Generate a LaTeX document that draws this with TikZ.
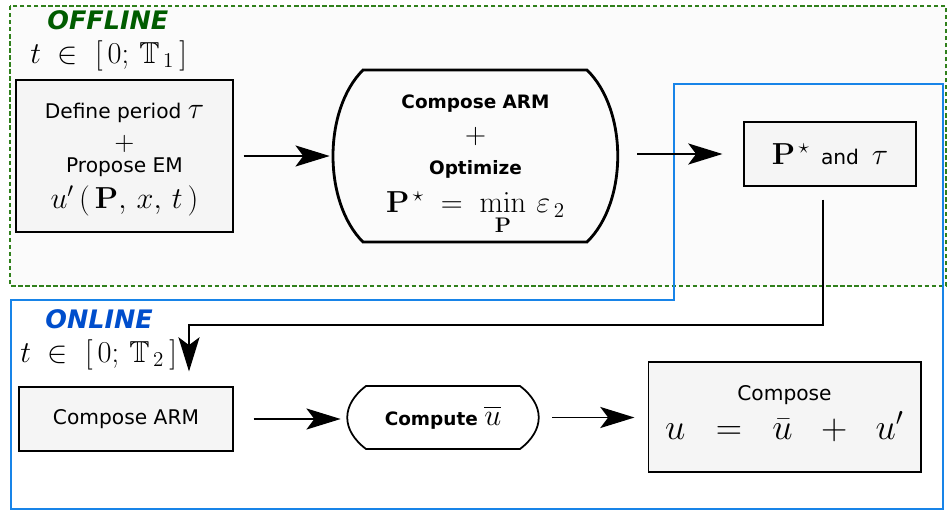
\RequirePackage{fix-cm}
\documentclass[tikz,border=0pt]{standalone}
\usepackage{amssymb}
\usepackage[no-math]{fontspec}
\setmainfont{DejaVu Sans}
\usetikzlibrary{arrows.meta}
\definecolor{offgreen}{RGB}{0,92,0}
\definecolor{dashgreen}{RGB}{48,128,28}
\definecolor{onblue}{RGB}{24,132,232}
\definecolor{ontext}{RGB}{0,78,204}
\definecolor{boxgray}{RGB}{245,245,245}
\definecolor{offback}{RGB}{251,251,251}
\newcommand{\mth}[1]{{\fontsize{17.28}{0}\selectfont$#1$}}
\newcommand{\txt}{\fontsize{11.5}{0}\selectfont\lineskiplimit=-\maxdimen}
\newcommand{\btxt}{\fontsize{10.5}{0}\selectfont\bfseries\lineskiplimit=-\maxdimen}
\begin{document}
\begin{tikzpicture}[x=0.02cm, y=-0.02cm,
	box/.style={draw, line width=0.6pt, fill=boxgray, align=center, inner sep=0pt},
	lines/.style={align=center, inner sep=0pt, anchor=north},
	phase/.style={anchor=base west, inner sep=0pt, font=\fontsize{14.5}{17}\selectfont\bfseries\itshape},
	arr/.style={line width=1.1pt, -{Stealth[length=19.5pt, width=12pt, inset=4.5pt]}}]
	\useasboundingbox (0,0) rectangle (948,511);
	% the two phases
	\draw[dashgreen, fill=offback, line width=1.1pt, dash pattern=on 2.5pt off 1.5pt] (10,6) rectangle (946,286);
	\draw[onblue, line width=1.5pt] (674,84) -- (943,84) -- (943,509) -- (11,509) -- (11,300) -- (674,300) -- cycle;
	\node[phase, text=offgreen] (offline) at (47,29) {OFFLINE};
	\node[anchor=base west, inner sep=0pt] (tone) at (30,63) {\mth{t\;\in\;[\,0;\,\mathbb{T}_{\,1}\,]}};
	\node[phase, text=ontext] (online) at (45,328) {ONLINE};
	\node[anchor=base west, inner sep=0pt] (ttwo) at (20,362) {\mth{t\;\in\;[\,0;\,\mathbb{T}_{\,2}\,]}};
	% offline steps
	\node[box, minimum width=4.34cm, minimum height=3.04cm] (define) at (124.5,156) {};
	\node[lines, font=\txt] (definetext) at (124.5,103)
		{Define period \mth{\tau}\\[17.9pt] {\fontsize{15}{0}\selectfont$+$}\\[12.7pt] Propose EM\\[20.4pt] \mth{u'\,(\,\mathbf{P},\,x,\,t\,)}};
	\node[minimum width=5.7cm, minimum height=3.44cm, inner sep=0pt] (optim) at (475.5,156) {};
	\node[lines, font=\btxt] (optimtext) at (475.5,94)
		{Compose ARM\\[20.2pt] {\fontsize{16}{0}\selectfont$+$}\\[17.8pt] Optimize\\[21.5pt] \mth{\mathbf{P}^{\,\star}\;=\;\min\limits_{\mathbf{P}}\,\varepsilon_{\,2}}};
	\draw[line width=1.6pt] (363,70) -- (587,70) .. controls (628,110) and (628,202) .. (587,242)
		-- (363,242) .. controls (323,202) and (323,110) .. cycle;
	\node[box, minimum width=3.44cm, minimum height=1.28cm] (pstar) at (830,154)
		{\mth{\mathbf{P}^{\,\star}}\ \ \txt and\ \ \mth{\tau}};
	% online steps
	\node[box, minimum width=4.28cm, minimum height=1.28cm] (arm) at (126,419) {\txt Compose ARM};
	\node[minimum width=3.8cm, minimum height=1.26cm, inner sep=0pt] (ubar) at (443,417.5)
		{\btxt Compute \mth{\overline{u}}};
	\draw[line width=1pt] (366,386) -- (520,386) .. controls (545,405) and (545,430) .. (520,449)
		-- (366,449) .. controls (341,430) and (341,405) .. cycle;
	\node[box, minimum width=5.46cm, minimum height=2.2cm] (total) at (784.5,417) {};
	\node[lines, font=\txt] (totaltext) at (784.5,385)
		{Compose\\[22.1pt] {\fontsize{20.74}{0}\selectfont$u\;\;=\;\;\bar{u}\;\;+\;\;u'$}};
	% connectors
	\draw[arr, shorten <=0.2cm, shorten >=0.06cm] (define.east) -- (define.east -| optim.west);
	\draw[arr, shorten <=0.38cm, shorten >=0.42cm] (optim.east |- pstar.west) -- (pstar.west);
	\coordinate (turn) at (189,325);
	\draw[arr, shorten >=0.3cm] ([xshift=-0.14cm, yshift=-0.26cm]pstar.south) |- (turn) -- (turn |- arm.north);
	\draw[arr, shorten <=0.4cm, shorten >=0.14cm] (arm.east) -- (arm.east -| ubar.west);
	\draw[arr, shorten <=0.28cm, shorten >=0.26cm] (ubar.east) -- (ubar.east -| total.west);
\end{tikzpicture}
\end{document}
